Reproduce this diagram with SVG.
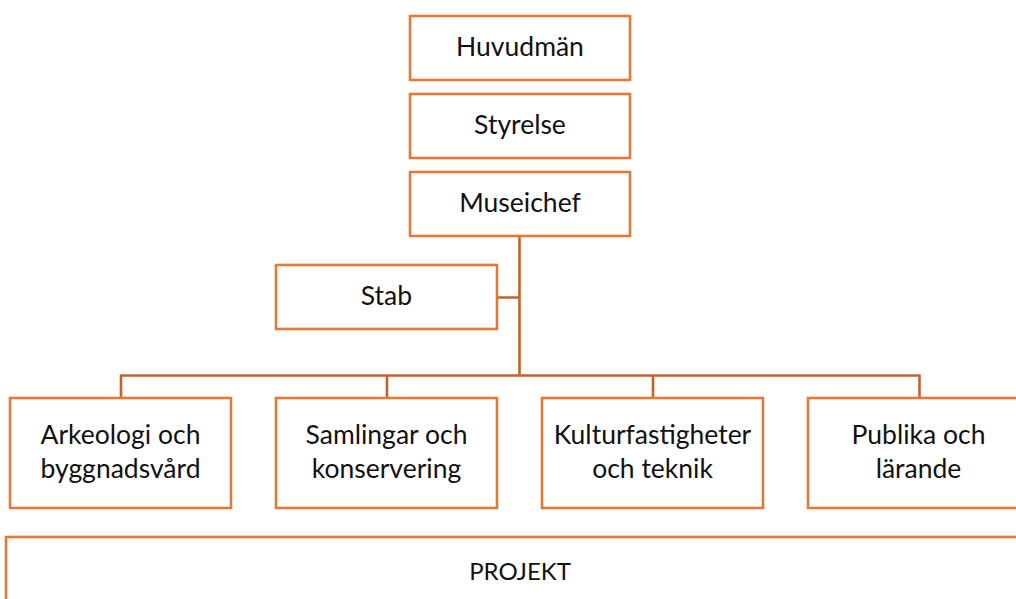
<svg xmlns="http://www.w3.org/2000/svg" width="1016" height="599" viewBox="0 0 1016 599">
<style>
.box{fill:#fff;stroke:#E07A36;stroke-width:2.6}
.conn{fill:none;stroke:#C4622A;stroke-width:2.6}
text{font-family:Lato,"Open Sans","Liberation Sans",sans-serif;font-size:26.5px;fill:#111;text-anchor:middle}
text.p{font-size:24px}
</style>
<rect width="1016" height="599" fill="#fff"/>
<g id="connectors">
<path class="conn" d="M519.5 236V375.5M497 297.5H519.5M121 375.5H919.5M121 374.5V398M387 374.5V398M653 374.5V398M919.5 374.5V398"/>
</g>
<g id="huvudman"><rect class="box" x="410" y="16" width="220" height="64"/><text x="520" y="56">Huvudmän</text></g>
<g id="styrelse"><rect class="box" x="410" y="94" width="220" height="64"/><text x="520" y="134">Styrelse</text></g>
<g id="museichef"><rect class="box" x="410" y="172" width="220" height="64"/><text x="520" y="212">Museichef</text></g>
<g id="stab"><rect class="box" x="276" y="265" width="221" height="64"/><text x="386.5" y="305">Stab</text></g>
<g id="arkeologi"><rect class="box" x="10" y="398" width="221" height="110"/><text x="120.5" y="444">Arkeologi och</text><text x="120.5" y="478">byggnadsvård</text></g>
<g id="samlingar"><rect class="box" x="276" y="398" width="221" height="110"/><text x="386.5" y="444">Samlingar och</text><text x="386.5" y="478">konservering</text></g>
<g id="kultur"><rect class="box" x="542" y="398" width="221" height="110"/><text x="652.5" y="444">Kulturfastigheter</text><text x="652.5" y="478">och teknik</text></g>
<g id="publika"><rect class="box" x="808" y="398" width="221" height="110"/><text x="918.5" y="444">Publika och</text><text x="918.5" y="478">lärande</text></g>
<g id="projekt"><rect class="box" x="6" y="537" width="1030" height="90"/><text class="p" x="520" y="580">PROJEKT</text></g>
</svg>
